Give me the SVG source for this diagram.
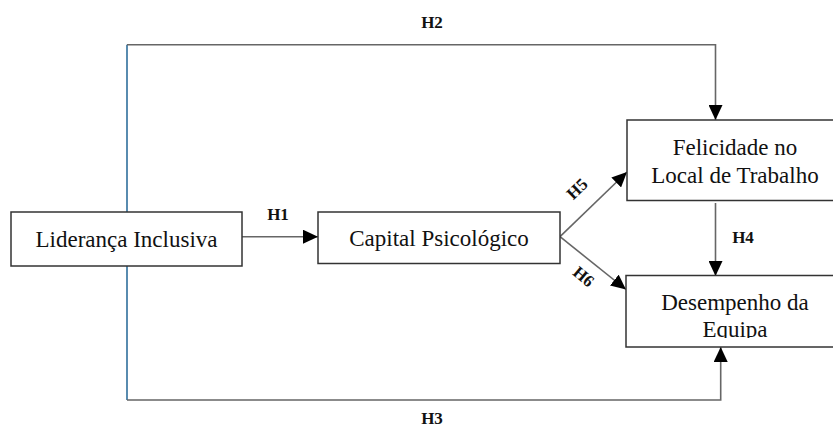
<svg xmlns="http://www.w3.org/2000/svg" width="833" height="430" viewBox="0 0 833 430">
<style>
.box{fill:#fff;stroke:#333;stroke-width:1.5}
.t{font-family:"Liberation Serif","Times New Roman",serif;font-size:23px;fill:#111;text-anchor:middle}
.h{font-family:"Liberation Serif","Times New Roman",serif;font-size:17px;font-weight:bold;fill:#111;text-anchor:middle}
.c{fill:none;stroke:#666;stroke-width:1.6}
.b{fill:none;stroke:#2f6f9c;stroke-width:1.6}
</style>
<defs>
<marker id="ah" markerUnits="userSpaceOnUse" markerWidth="15" markerHeight="14" viewBox="0 0 15 14" refX="15" refY="7" orient="auto">
<path d="M0,0 L15,7 L0,14 Z" fill="#000"/>
</marker>
<clipPath id="dclip"><rect x="620" y="270" width="220" height="68"/></clipPath>
</defs>
<g id="connectors">
<path class="b" d="M127,212 V44.7"/>
<path class="c" d="M127,44.7 H715.5 V120" marker-end="url(#ah)"/>
<path class="b" d="M127,266 V400"/>
<path class="c" d="M127,400 H720.7 V347" marker-end="url(#ah)"/>
<path class="c" d="M242,236.7 H318" marker-end="url(#ah)"/>
<path class="c" d="M560,236.7 L627,172" marker-end="url(#ah)"/>
<path class="c" d="M560,236.7 L626,289.5" marker-end="url(#ah)"/>
<path class="c" d="M715.5,203 V276" marker-end="url(#ah)"/>
<text class="h" x="432" y="28">H2</text>
<text class="h" x="278" y="220">H1</text>
<text class="h" x="743" y="243">H4</text>
<text class="h" x="432" y="424">H3</text>
<text class="h" transform="translate(581,193) rotate(-44)">H5</text>
<text class="h" transform="translate(580,281) rotate(40)">H6</text>
</g>
<g id="lideranca">
<rect class="box" x="11" y="212" width="231" height="54"/>
<text class="t" x="126.5" y="247">Liderança Inclusiva</text>
</g>
<g id="capital">
<rect class="box" x="318" y="212" width="242" height="51.5"/>
<text class="t" x="439" y="246">Capital Psicológico</text>
</g>
<g id="felicidade">
<rect class="box" x="627" y="120" width="216" height="80.5"/>
<text class="t" x="735" y="155">Felicidade no</text>
<text class="t" x="735" y="183">Local de Trabalho</text>
</g>
<g id="desempenho">
<rect class="box" x="626" y="275.5" width="217" height="71.5"/>
<g clip-path="url(#dclip)">
<text class="t" x="735" y="310">Desempenho da</text>
<text class="t" x="735" y="337">Equipa</text>
</g>
</g>
</svg>
